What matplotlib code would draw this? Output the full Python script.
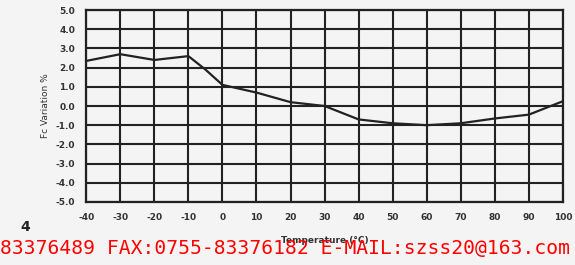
import numpy as np
import matplotlib.pyplot as plt

# temperature (deg C) vs Fc variation (%)
temps = [-40, -30, -20, -10, -5, 0, 10, 20, 30, 40, 50, 60, 70, 80, 90, 100]
fc_var = [2.35, 2.7, 2.4, 2.6, 1.9, 1.1, 0.7, 0.2, 0.0, -0.7, -0.9, -1.0, -0.9, -0.65, -0.45, 0.25]

xticks = np.arange(-40, 101, 10)
yticks = np.arange(-5.0, 5.01, 1.0)

fig = plt.figure(figsize=(5.75, 2.65), dpi=100)
fig.patch.set_facecolor('#f4f4f4')
ax = fig.add_axes([0.15, 0.238, 0.829, 0.724])
ax.set_facecolor('#f4f4f4')

ax.plot(temps, fc_var, color='#222222', lw=1.6)

ax.set_xlim(-40, 100)
ax.set_ylim(-5, 5)
ax.set_xticks(xticks)
ax.set_yticks(yticks)
ax.set_xticklabels([str(t) for t in xticks], fontsize=6.5, color='#333333', fontweight='bold')
ax.set_yticklabels(['%.1f' % v for v in yticks], fontsize=6.5, color='#333333', fontweight='bold')
ax.tick_params(length=0, pad=8)
ax.grid(True, color='#222222', lw=1.5)
for s in ax.spines.values():
    s.set_color('#222222')
    s.set_linewidth(1.6)

ax.set_ylabel('Fc Variation %', fontsize=6.5, color='#333333', labelpad=4)
ax.set_xlabel('Temperature (\u00b0C)', fontsize=6.5, color='#333333', fontweight='bold', labelpad=10)

fig.text(0.035, 0.13, '4', fontsize=10, fontweight='bold', color='#222222')
fig.text(0.0, 0.04, '83376489 FAX:0755-83376182 E-MAIL:szss20@163.com',
         fontsize=14.1, color='red', family='DejaVu Sans Mono')

fig.savefig('out.png', dpi=100, facecolor=fig.get_facecolor())
